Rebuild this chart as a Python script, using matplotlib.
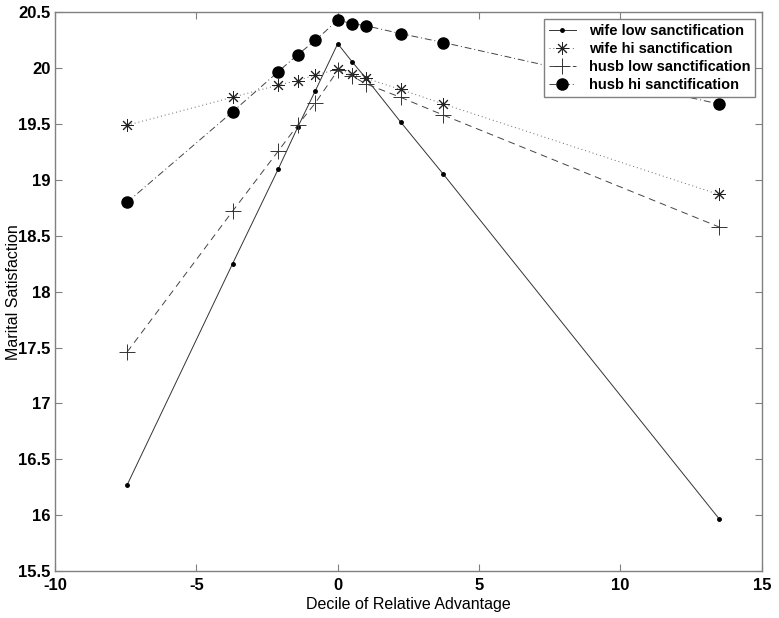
import matplotlib
matplotlib.use("Agg")
import matplotlib.pyplot as plt

plt.rcParams["font.family"] = ["Liberation Sans", "DejaVu Sans"]
plt.rcParams["axes.unicode_minus"] = False

# decile of relative advantage (x positions)
decile = [-7.45, -3.72, -2.10, -1.42, -0.79, 0.0, 0.50, 1.00, 2.22, 3.74, 13.48]

wife_low = [16.27, 18.25, 19.10, 19.47, 19.80, 20.22, 20.06, 19.91, 19.52, 19.05, 15.97]
wife_hi = [19.49, 19.74, 19.85, 19.89, 19.94, 19.99, 19.95, 19.91, 19.81, 19.68, 18.87]
husb_low = [17.46, 18.72, 19.26, 19.49, 19.69, 19.98, 19.93, 19.86, 19.74, 19.58, 18.58]
husb_hi = [18.80, 19.61, 19.97, 20.12, 20.25, 20.43, 20.40, 20.38, 20.31, 20.23, 19.68]

labels = ["wife low sanctification", "wife hi sanctification",
          "husb low sanctification", "husb hi sanctification"]

fig = plt.figure(figsize=(7.79, 6.18), dpi=100)
ax = fig.add_axes([0.0706, 0.076, 0.9074, 0.904])

lw = 0.7
ax.plot(decile, wife_low, color="#333333", linestyle="-", linewidth=lw,
        marker="o", markersize=2.5, markerfacecolor="black", markeredgecolor="black",
        label=labels[0])
ax.plot(decile, wife_hi, color="#666666", linestyle=(0, (1, 3)), linewidth=lw,
        marker=(8, 2, 0), markersize=9, markeredgewidth=0.7, markeredgecolor="#222222",
        label=labels[1])
ax.plot(decile, husb_low, color="#444444", linestyle=(0, (7, 5)), linewidth=lw,
        marker="+", markersize=11, markeredgewidth=0.7, markeredgecolor="#333333",
        label=labels[2])
ax.plot(decile, husb_hi, color="#444444", linestyle=(0, (7, 3, 1, 3)), linewidth=lw,
        marker="o", markersize=8, markerfacecolor="black", markeredgecolor="black",
        label=labels[3])

ax.set_xlim(-10, 15)
ax.set_ylim(15.5, 20.5)
ax.set_xticks([-10, -5, 0, 5, 10, 15])
ax.set_yticks([15.5, 16, 16.5, 17, 17.5, 18, 18.5, 19, 19.5, 20, 20.5])
ax.set_yticklabels(["15.5", "16", "16.5", "17", "17.5", "18", "18.5",
                    "19", "19.5", "20", "20.5"])

for s in ax.spines.values():
    s.set_color("#808080")
    s.set_linewidth(1.0)
ax.tick_params(direction="in", length=5, width=0.8, color="#808080",
               top=True, right=True, labelsize=12)
ax.tick_params(axis="y", pad=3)
ax.tick_params(axis="x", pad=5)
for t in ax.get_xticklabels() + ax.get_yticklabels():
    t.set_fontweight("bold")

ax.set_xlabel("Decile of Relative Advantage", fontsize=11.5, labelpad=3)
ax.set_ylabel("Marital Satisfaction", fontsize=11.5, labelpad=-2)

leg = ax.legend(loc="upper right", fontsize=10.5, frameon=True, fancybox=False,
                borderaxespad=0.45, handlelength=1.8, labelspacing=0.28,
                borderpad=0.35, handletextpad=0.9)
leg.get_frame().set_edgecolor("#808080")
leg.get_frame().set_linewidth(1.0)
leg.get_frame().set_alpha(1.0)
for t in leg.get_texts():
    t.set_fontweight("bold")

fig.savefig("out.png", dpi=100)
